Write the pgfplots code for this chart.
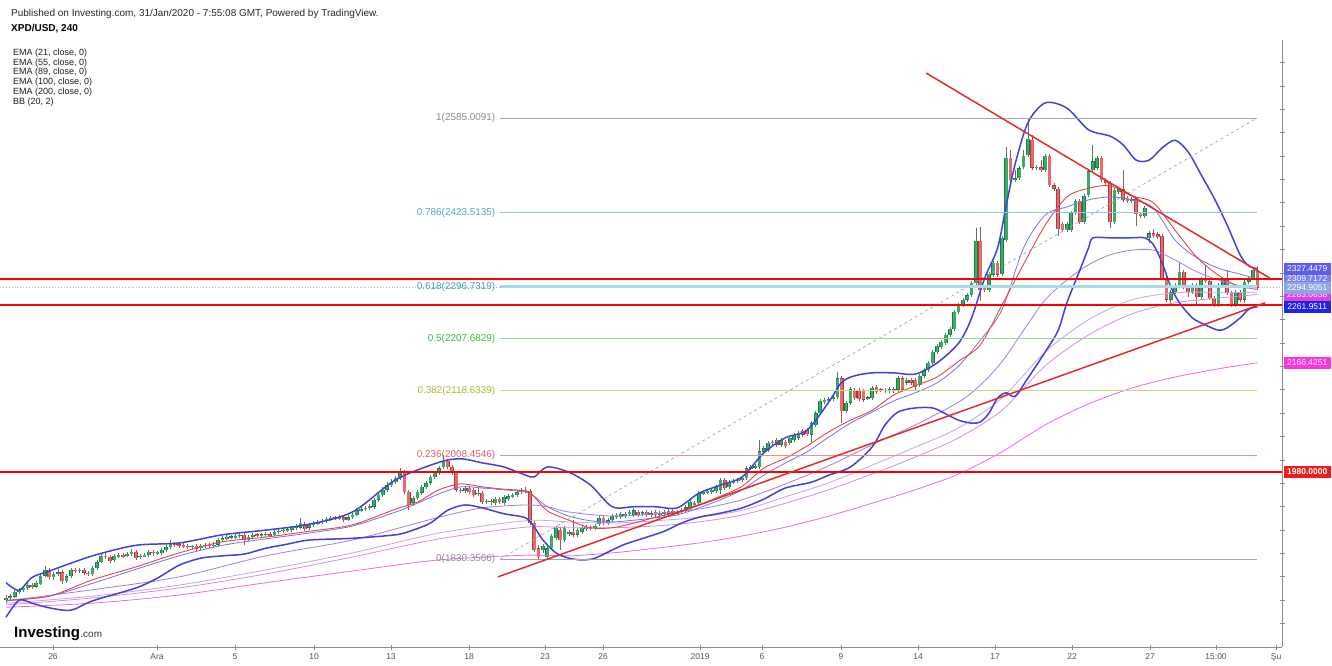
\documentclass[border=0pt]{standalone}
\usepackage{pgfplots}
\pgfplotsset{compat=1.18}
\usepackage{pgfplotstable}
\usepackage{fontspec}
\setmainfont{Liberation Sans}

\definecolor{axisgray}{HTML}{8C8C8C}
\definecolor{ticktext}{HTML}{555555}
\definecolor{upfill}{HTML}{38AD68}
\definecolor{upline}{HTML}{1F7A45}
\definecolor{dnfill}{HTML}{E46C6C}
\definecolor{dnline}{HTML}{B03A3A}
\definecolor{upwick}{HTML}{4E7F62}
\definecolor{dnwick}{HTML}{9A5A5A}
\definecolor{bbblue}{HTML}{4242DA}
\definecolor{basisred}{HTML}{E8453C}
\definecolor{emaA}{HTML}{7373F2}
\definecolor{emaB}{HTML}{A77BF0}
\definecolor{emaC}{HTML}{C8A2EE}
\definecolor{emaD}{HTML}{DB8BE6}
\definecolor{emaE}{HTML}{E96BEA}
\definecolor{hred}{HTML}{FF0000}
\definecolor{tred}{HTML}{E52B2B}
\definecolor{fibgray}{HTML}{A6A6A6}
\definecolor{fibblue}{HTML}{8EC5E6}
\definecolor{fibbluet}{HTML}{4AA3D8}
\definecolor{fibcyan}{HTML}{A6DCE6}
\definecolor{fibcyant}{HTML}{36AAB0}
\definecolor{fibgreen}{HTML}{93D893}
\definecolor{fibgreent}{HTML}{44B346}
\definecolor{fibolive}{HTML}{C6DD7C}
\definecolor{fibolivet}{HTML}{A3BE36}
\definecolor{fibred}{HTML}{EE8F8F}
\definecolor{fibredt}{HTML}{E06060}
\definecolor{pricegray}{HTML}{9FB2CF}

% 4h candles: index, open, high, low, close
\pgfplotstableread{
i o h l c
0 1760 1769 1755 1764
1 1764 1771 1760 1767
2 1766 1778 1764 1774
3 1774 1781 1771 1778
4 1778 1784 1774 1781
5 1781 1791 1778 1786
6 1786 1790 1779 1783
7 1783 1793 1781 1790
8 1788 1805 1786 1802
9 1802 1819 1800 1812
10 1812 1815 1796 1800
11 1800 1808 1795 1805
12 1805 1813 1802 1808
13 1808 1812 1788 1793
14 1793 1805 1790 1801
15 1801 1815 1798 1812
16 1812 1815 1807 1810
17 1810 1815 1807 1812
18 1812 1815 1803 1807
19 1807 1810 1801 1805
20 1805 1819 1801 1815
21 1815 1829 1812 1825
22 1825 1839 1824 1836
23 1836 1841 1831 1834
24 1834 1838 1824 1827
25 1829 1839 1825 1836
26 1836 1841 1832 1837
27 1837 1841 1832 1836
28 1836 1843 1834 1839
29 1839 1848 1836 1843
30 1843 1846 1829 1832
31 1834 1839 1831 1836
32 1836 1841 1834 1837
33 1837 1846 1834 1843
34 1843 1846 1836 1841
35 1841 1844 1837 1842
36 1841 1849 1837 1846
37 1846 1855 1843 1851
38 1851 1863 1848 1856
39 1856 1860 1851 1855
40 1855 1858 1849 1854
41 1854 1858 1849 1853
42 1853 1856 1848 1851
43 1851 1854 1848 1853
44 1853 1856 1844 1848
45 1849 1856 1846 1853
46 1853 1858 1849 1855
47 1855 1858 1849 1853
48 1853 1860 1849 1855
49 1855 1866 1851 1863
50 1863 1870 1860 1866
51 1866 1872 1863 1868
52 1868 1872 1865 1869
53 1868 1873 1865 1870
54 1870 1875 1866 1872
55 1872 1875 1855 1863
56 1863 1872 1861 1868
57 1868 1875 1865 1872
58 1872 1875 1868 1871
59 1871 1875 1868 1872
60 1872 1877 1868 1873
61 1873 1877 1868 1871
62 1871 1880 1870 1877
63 1877 1882 1873 1879
64 1879 1884 1875 1880
65 1880 1884 1877 1881
66 1881 1887 1877 1884
67 1884 1890 1880 1885
68 1884 1901 1882 1892
69 1890 1894 1878 1882
70 1884 1892 1880 1889
71 1889 1896 1885 1892
72 1892 1897 1889 1894
73 1894 1899 1890 1896
74 1896 1902 1892 1899
75 1899 1904 1896 1901
76 1901 1904 1897 1900
77 1900 1906 1897 1902
78 1902 1906 1894 1897
79 1897 1906 1896 1902
80 1902 1909 1899 1906
81 1906 1918 1904 1914
82 1914 1920 1911 1916
83 1916 1921 1913 1918
84 1918 1925 1914 1921
85 1920 1935 1916 1932
86 1932 1944 1928 1940
87 1940 1954 1937 1949
88 1949 1962 1945 1957
89 1957 1967 1954 1962
90 1962 1973 1959 1969
91 1969 1986 1966 1979
92 1979 1983 1942 1945
93 1945 1949 1914 1923
94 1926 1938 1921 1935
95 1935 1949 1932 1945
96 1944 1957 1940 1954
97 1954 1964 1950 1961
98 1961 1974 1957 1971
99 1971 1981 1967 1978
100 1978 1990 1974 1986
101 1988 2009 1985 1998
102 1998 2002 1985 1988
103 1988 1991 1974 1978
104 1978 1981 1945 1949
105 1949 1952 1944 1947
106 1947 1955 1944 1952
107 1952 1955 1942 1945
108 1949 1952 1937 1940
109 1942 1954 1938 1944
110 1944 1947 1925 1928
111 1928 1933 1925 1930
112 1930 1933 1923 1928
113 1926 1936 1923 1933
114 1933 1937 1925 1928
115 1926 1940 1923 1937
116 1933 1942 1930 1938
117 1938 1943 1935 1940
118 1940 1949 1937 1945
119 1945 1952 1942 1949
120 1949 1954 1944 1947
121 1947 1950 1889 1892
122 1892 1896 1843 1846
123 1849 1855 1831 1834
124 1846 1856 1841 1853
125 1834 1853 1829 1849
126 1849 1873 1846 1870
127 1866 1887 1863 1884
128 1880 1884 1846 1863
129 1863 1887 1860 1884
130 1873 1880 1870 1877
131 1877 1897 1868 1872
132 1872 1884 1868 1880
133 1877 1887 1873 1884
134 1882 1889 1879 1885
135 1884 1887 1880 1883
136 1884 1890 1880 1887
137 1890 1904 1887 1901
138 1901 1904 1889 1892
139 1892 1901 1889 1897
140 1897 1908 1894 1904
141 1902 1909 1899 1906
142 1902 1911 1899 1908
143 1904 1911 1901 1908
144 1908 1914 1904 1911
145 1906 1918 1902 1914
146 1911 1914 1902 1906
147 1909 1913 1904 1910
148 1911 1914 1902 1906
149 1906 1913 1902 1909
150 1911 1914 1902 1906
151 1906 1913 1902 1909
152 1908 1914 1904 1911
153 1908 1916 1904 1913
154 1913 1916 1904 1908
155 1909 1914 1906 1911
156 1911 1918 1908 1914
157 1913 1923 1909 1919
158 1918 1931 1914 1928
159 1925 1930 1921 1926
160 1926 1947 1923 1943
161 1943 1949 1940 1945
162 1945 1950 1942 1947
163 1945 1952 1942 1949
164 1947 1957 1943 1954
165 1949 1969 1942 1966
166 1966 1969 1949 1952
167 1954 1966 1950 1962
168 1962 1967 1959 1964
169 1964 1969 1961 1966
170 1966 1973 1962 1969
171 1969 1990 1966 1986
172 1986 1991 1983 1988
173 1988 1993 1985 1989
174 1988 2034 1985 2015
175 2014 2024 2010 2020
176 2017 2032 2014 2029
177 2029 2034 2026 2031
178 2034 2038 2022 2026
179 2026 2038 2022 2034
180 2031 2034 2020 2024
181 2029 2041 2026 2038
182 2034 2046 2031 2043
183 2038 2050 2034 2046
184 2050 2053 2039 2043
185 2051 2055 2041 2044
186 2043 2067 2031 2063
187 2060 2084 2056 2080
188 2080 2104 2077 2101
189 2099 2106 2096 2103
190 2101 2108 2098 2104
191 2104 2111 2101 2108
192 2108 2150 2104 2140
193 2140 2144 2063 2084
194 2084 2101 2080 2098
195 2098 2125 2094 2121
196 2120 2123 2103 2106
197 2120 2123 2101 2104
198 2118 2121 2099 2103
199 2106 2109 2103 2107
200 2106 2127 2103 2123
201 2125 2128 2113 2116
202 2120 2123 2116 2119
203 2120 2123 2115 2118
204 2118 2125 2115 2121
205 2121 2125 2115 2118
206 2120 2144 2116 2140
207 2140 2144 2116 2120
208 2132 2140 2128 2137
209 2137 2140 2128 2132
210 2137 2140 2120 2125
211 2128 2147 2125 2144
212 2144 2157 2140 2154
213 2154 2169 2150 2166
214 2166 2188 2162 2185
215 2185 2198 2181 2195
216 2193 2205 2190 2202
217 2200 2217 2197 2214
218 2214 2228 2210 2224
219 2224 2257 2221 2253
220 2253 2269 2250 2265
221 2265 2277 2262 2274
222 2274 2286 2270 2282
223 2282 2306 2279 2303
224 2303 2397 2299 2375
225 2375 2399 2272 2291
226 2296 2299 2287 2291
227 2291 2322 2287 2318
228 2317 2340 2313 2337
229 2337 2340 2313 2317
230 2318 2383 2315 2380
231 2376 2536 2373 2517
232 2517 2530 2470 2479
233 2479 2496 2476 2482
234 2482 2503 2479 2499
235 2501 2530 2498 2520
236 2522 2585 2518 2549
237 2548 2556 2496 2500
238 2500 2505 2496 2501
239 2501 2513 2493 2496
240 2496 2523 2493 2520
241 2520 2523 2467 2470
242 2470 2474 2460 2464
243 2464 2467 2383 2395
244 2404 2407 2390 2393
245 2393 2407 2390 2404
246 2393 2426 2390 2423
247 2423 2447 2419 2443
248 2443 2447 2404 2407
249 2407 2455 2404 2452
250 2453 2498 2450 2494
251 2496 2539 2493 2511
252 2500 2520 2496 2517
253 2517 2520 2476 2479
254 2479 2482 2470 2474
255 2474 2477 2397 2407
256 2407 2465 2404 2462
257 2458 2467 2455 2463
258 2463 2496 2441 2445
259 2448 2452 2440 2443
260 2443 2450 2440 2446
261 2446 2450 2400 2421
262 2421 2424 2414 2417
263 2417 2435 2414 2431
264 2380 2392 2371 2388
265 2388 2395 2380 2383
266 2386 2390 2378 2381
267 2383 2387 2308 2311
268 2311 2315 2270 2274
269 2274 2291 2269 2287
270 2287 2303 2284 2299
271 2299 2339 2296 2322
272 2322 2325 2293 2296
273 2296 2299 2279 2287
274 2287 2303 2284 2299
275 2299 2303 2263 2279
276 2279 2313 2275 2310
277 2310 2334 2303 2306
278 2306 2310 2274 2277
279 2277 2281 2262 2265
280 2265 2303 2262 2299
281 2299 2313 2296 2310
282 2310 2325 2282 2286
283 2286 2289 2262 2265
284 2265 2291 2262 2287
285 2287 2291 2270 2274
286 2274 2308 2269 2305
287 2305 2315 2301 2311
288 2311 2329 2308 2325
289 2325 2332 2291 2294.9
}\candles

\pgfplotsset{
  candle/.style n args={3}{forget plot, draw=none, mark=none,
    restrict expr to domain={\thisrow{c}-\thisrow{o}}{#1},
    error bars/.cd, y dir=both, y explicit, error mark=none,
    error bar style={draw=#2, line width=#3, line cap=butt, solid}},
}

\begin{document}
\begin{tikzpicture}[x=1pt,y=1pt]
\path[use as bounding box] (0,0) rectangle (1332,665);
\fill[white] (0,0) rectangle (1332,665);
\begin{axis}[
  at={(0pt,18pt)}, anchor=south west,
  scale only axis, width=1282pt, height=607pt,
  xmin=-1.386, xmax=294.69, ymin=1680, ymax=2718.56,
  axis x line*=bottom, axis y line*=right,
  axis line style={draw=axisgray, line width=0.9pt},
  clip=false,
  xtick={10.85,34.87,52.89,71.13,88.91,106.93,124.48,137.88,160.28,174.6,192.84,210.62,228.41,246.19,264.2,279.45,293.3},
  xticklabels={26,Ara,5,10,13,18,23,26,2019,6,9,14,17,22,27,15:00,Şu},
  ytick={1720,1760,...,2680},
  yticklabels={},
  tick align=center, major tick length=5pt,
  tick style={draw=axisgray, line width=0.8pt},
  xticklabel style={font=\fontsize{8.5}{10}\selectfont, text=ticktext, yshift=-1pt},
]
% candle wicks
\addplot[candle={0:5000}{upwick}{0.8pt}] table[x=i, y expr={(\thisrow{h}+\thisrow{l})/2}, y error expr={(\thisrow{h}-\thisrow{l})/2}]{\candles};
\addplot[candle={-5000:-0.001}{dnwick}{0.8pt}] table[x=i, y expr={(\thisrow{h}+\thisrow{l})/2}, y error expr={(\thisrow{h}-\thisrow{l})/2}]{\candles};
% candle bodies
\addplot[candle={0:5000}{upline}{3.7pt}] table[x=i, y expr={(\thisrow{o}+\thisrow{c})/2}, y error expr={max(abs(\thisrow{c}-\thisrow{o})/2,1.2)}]{\candles};
\addplot[candle={0:5000}{upfill}{2.5pt}] table[x=i, y expr={(\thisrow{o}+\thisrow{c})/2}, y error expr={max(abs(\thisrow{c}-\thisrow{o})/2-0.6,0.3)}]{\candles};
\addplot[candle={-5000:-0.001}{dnline}{3.7pt}] table[x=i, y expr={(\thisrow{o}+\thisrow{c})/2}, y error expr={max(abs(\thisrow{c}-\thisrow{o})/2,1.2)}]{\candles};
\addplot[candle={-5000:-0.001}{dnfill}{2.5pt}] table[x=i, y expr={(\thisrow{o}+\thisrow{c})/2}, y error expr={max(abs(\thisrow{c}-\thisrow{o})/2-0.6,0.3)}]{\candles};

% EMA 200
\addplot[emaE, line width=0.8pt, smooth] coordinates {(0,1748)(20,1755)(40,1769)(60,1790)(80,1810)(100,1829)(120,1837)(130,1836)(140,1841)(150,1849)(160,1858)(170,1870)(180,1885)(190,1904)(200,1926)(210,1949)(220,1976)(230,2014)(240,2060)(250,2096)(260,2123)(270,2142)(280,2156)(289,2166.4)};
% EMA 100
\addplot[emaD, line width=0.8pt, smooth] coordinates {(0,1752)(20,1764)(40,1781)(60,1805)(80,1834)(100,1865)(120,1885)(130,1884)(140,1884)(150,1887)(160,1894)(170,1906)(180,1926)(190,1949)(200,1976)(210,2005)(220,2038)(230,2085)(240,2161)(250,2214)(260,2250)(270,2269)(280,2277)(289,2283.1)};
% EMA 89
\addplot[emaC, line width=0.8pt, smooth] coordinates {(0,1755)(20,1767)(40,1786)(60,1812)(80,1841)(100,1875)(120,1896)(130,1894)(140,1892)(150,1896)(160,1902)(170,1914)(180,1937)(190,1961)(200,1991)(210,2022)(220,2055)(230,2106)(240,2185)(250,2240)(260,2274)(270,2286)(280,2287)(289,2286)};
% EMA 55
\addplot[emaB, line width=0.8pt, smooth] coordinates {(0,1759)(20,1778)(40,1800)(60,1836)(80,1863)(100,1902)(110,1918)(120,1923)(125,1920)(130,1911)(140,1904)(150,1908)(160,1916)(170,1932)(180,1959)(190,1990)(200,2026)(210,2060)(220,2099)(225,2128)(230,2168)(235,2222)(240,2274)(245,2308)(250,2334)(255,2351)(260,2359)(265,2359)(270,2342)(275,2322)(280,2308)(285,2298)(289,2291)};
% EMA 21
\addplot[emaA, line width=0.8pt, smooth] coordinates {(0,1759)(10,1767)(20,1789)(30,1813)(40,1836)(50,1854)(60,1865)(70,1875)(80,1887)(90,1911)(95,1926)(100,1942)(105,1954)(110,1952)(115,1949)(120,1945)(122,1938)(125,1920)(130,1904)(135,1896)(140,1894)(145,1897)(150,1901)(155,1906)(160,1918)(165,1932)(170,1949)(175,1974)(180,1995)(185,2014)(190,2039)(195,2063)(200,2082)(205,2101)(210,2115)(215,2132)(220,2161)(225,2205)(230,2257)(235,2363)(240,2419)(245,2433)(250,2445)(255,2450)(260,2445)(265,2431)(270,2376)(275,2346)(280,2328)(285,2318)(289,2309.7)};
% BB basis
\addplot[basisred, line width=0.9pt, smooth] coordinates {(0,1760)(10,1767)(20,1795)(30,1817)(40,1841)(50,1860)(60,1868)(70,1878)(80,1889)(90,1916)(95,1928)(100,1949)(105,1959)(110,1954)(115,1950)(120,1947)(122,1937)(125,1913)(130,1897)(135,1884)(140,1884)(145,1892)(150,1902)(155,1911)(160,1923)(165,1938)(170,1955)(175,1986)(180,2003)(185,2024)(190,2048)(195,2068)(200,2085)(205,2111)(210,2127)(215,2142)(220,2169)(225,2197)(230,2265)(235,2335)(240,2402)(245,2450)(250,2465)(255,2469)(260,2452)(265,2440)(270,2393)(275,2347)(280,2316)(285,2296)(289,2294.7)};
% BB upper
\addplot[bbblue, line width=1.5pt, smooth] coordinates {(0,1790)(3,1777)(6,1799)(10,1810)(20,1836)(30,1854)(40,1858)(50,1872)(60,1880)(70,1890)(80,1911)(90,1966)(100,1996)(105,2002)(110,1995)(115,1988)(120,1974)(122,1971)(125,1988)(130,1979)(135,1957)(140,1920)(145,1920)(150,1920)(155,1918)(160,1943)(165,1957)(170,1971)(175,2012)(180,2038)(185,2051)(190,2099)(193,2133)(196,2144)(200,2149)(205,2149)(210,2147)(215,2166)(220,2200)(223,2243)(226,2311)(229,2363)(231,2436)(233,2505)(236,2577)(240,2611)(245,2602)(250,2565)(255,2554)(258,2539)(261,2513)(264,2513)(267,2534)(270,2547)(273,2527)(276,2488)(279,2448)(282,2402)(285,2351)(287,2332)(289,2327.4479)};
% BB lower
\addplot[bbblue, line width=1.5pt, smooth] coordinates {(0,1731)(3,1760)(6,1755)(10,1747)(15,1743)(20,1759)(30,1781)(35,1798)(40,1820)(45,1832)(50,1836)(55,1839)(60,1849)(65,1856)(70,1863)(80,1866)(90,1872)(94,1880)(98,1892)(102,1914)(106,1923)(110,1918)(115,1908)(120,1901)(122,1885)(124,1863)(127,1841)(130,1832)(133,1829)(136,1832)(140,1846)(143,1856)(148,1868)(152,1878)(156,1892)(160,1902)(165,1909)(170,1918)(175,1933)(180,1952)(186,1962)(190,1974)(195,1988)(200,2022)(203,2060)(206,2082)(210,2089)(214,2089)(217,2079)(220,2068)(223,2063)(225,2065)(227,2080)(229,2106)(231,2115)(233,2109)(236,2140)(240,2185)(243,2222)(245,2269)(248,2325)(250,2363)(251,2380)(255,2380)(259,2380)(263,2380)(265,2368)(267,2337)(269,2296)(271,2269)(274,2243)(277,2231)(280,2222)(282,2226)(285,2243)(287,2258)(289,2261.9511)};

% Fibonacci retracement
\addplot[fibgray, dashed, line width=0.7pt] coordinates {(114.1,1830.3566)(288.9,2585.0091)};
\addplot[fibgray, line width=0.9pt] coordinates {(114.1,2585.0091)(288.9,2585.0091)};
\addplot[fibblue, line width=0.9pt] coordinates {(114.1,2423.5135)(288.9,2423.5135)};
\addplot[pricegray, dotted, line width=0.9pt] coordinates {(-1.386,2294.9051)(294.69,2294.9051)};
\addplot[fibcyan, line width=2.6pt] coordinates {(114.1,2296.7319)(288.9,2296.7319)};
\addplot[fibgreen, line width=0.9pt] coordinates {(114.1,2207.6829)(288.9,2207.6829)};
\addplot[fibolive, line width=0.9pt] coordinates {(114.1,2118.6339)(288.9,2118.6339)};
\addplot[fibred, line width=0.9pt] coordinates {(114.1,2008.4546)(288.9,2008.4546)};
\addplot[fibgray, line width=0.9pt] coordinates {(114.1,1830.3566)(288.9,1830.3566)};

% horizontal levels and trend lines
\addplot[hred, line width=1.8pt] coordinates {(-1.386,2310)(294.69,2310)};
\addplot[hred, line width=1.8pt] coordinates {(-1.386,2265)(294.69,2265)};
\addplot[hred, line width=1.8pt] coordinates {(-1.386,1980)(294.69,1980)};
\addplot[tred, line width=1.5pt] coordinates {(212.5,2662)(291.9,2311)};
\addplot[tred, line width=1.5pt] coordinates {(113.6,1800)(290.8,2269)};

% fib labels
\begin{scope}[every node/.style={anchor=east, inner sep=0pt, font=\fontsize{9.9}{11}\selectfont}]
\node[text=fibgray!85!black] at (axis cs:113,2585.0091) {1(2585.0091)};
\node[text=fibbluet] at (axis cs:113,2423.5135) {0.786(2423.5135)};
\node[text=fibcyant] at (axis cs:113,2296.7319) {0.618(2296.7319)};
\node[text=fibgreent] at (axis cs:113,2207.6829) {0.5(2207.6829)};
\node[text=fibolivet] at (axis cs:113,2118.6339) {0.382(2118.6339)};
\node[text=fibredt] at (axis cs:113,2008.4546) {0.236(2008.4546)};
\node[text=fibgray!85!black] at (axis cs:113,1830.3566) {0(1830.3566)};
\end{scope}

% price scale labels
\begin{scope}[every node/.style={anchor=west, inner sep=0pt, xshift=1.5pt, minimum width=47pt, minimum height=12pt, text=white, font=\fontsize{8.5}{9}\selectfont}]
\node[fill={rgb,255:red,221;green,68;blue,221}] at (axis cs:294.69,2283.0838) {2283.0838};
\node[fill={rgb,255:red,127;green,127;blue,240}] at (axis cs:294.69,2309.7172) {2309.7172};
\node[fill={rgb,255:red,93;green,93;blue,242}] at (axis cs:294.69,2327.4479) {2327.4479};
\node[fill={rgb,255:red,143;green,166;blue,224}] at (axis cs:294.69,2294.9051) {2294.9051};
\node[fill={rgb,255:red,34;green,34;blue,238}] at (axis cs:294.69,2261.9511) {2261.9511};
\node[fill={rgb,255:red,255;green,51;blue,221}] at (axis cs:294.69,2166.4251) {2166.4251};
\node[fill={rgb,255:red,238;green,28;blue,28}, font=\fontsize{8.5}{9}\selectfont\bfseries] at (axis cs:294.69,1980) {1980.0000};
\end{scope}
\end{axis}

% header and legend texts
\node[anchor=west, inner sep=0pt, text={rgb,255:red,40;green,40;blue,40}, font=\fontsize{10}{12}\selectfont] at (11,651) {Published on Investing.com, 31/Jan/2020 - 7:55:08 GMT, Powered by TradingView.};
\node[anchor=west, inner sep=0pt, text=black, font=\fontsize{10}{12}\selectfont\bfseries] at (11,636) {XPD/USD, 240};
\begin{scope}[every node/.style={anchor=west, inner sep=0pt, text={rgb,255:red,30;green,30;blue,30}, font=\fontsize{9}{11}\selectfont}]
\node at (13,612) {EMA (21, close, 0)};
\node at (13,602.2) {EMA (55, close, 0)};
\node at (13,592.5) {EMA (89, close, 0)};
\node at (13,582.7) {EMA (100, close, 0)};
\node at (13,573) {EMA (200, close, 0)};
\node at (13,563.2) {BB (20, 2)};
\end{scope}
% logo
\node[anchor=base west, inner sep=0pt, font=\fontsize{15}{16}\selectfont\bfseries] (inv) at (14,28) {Investing};
\node[anchor=base west, inner sep=0pt, font=\fontsize{10}{11}\selectfont, text={rgb,255:red,60;green,60;blue,60}] at (inv.base east) {.com};
\end{tikzpicture}
\end{document}
